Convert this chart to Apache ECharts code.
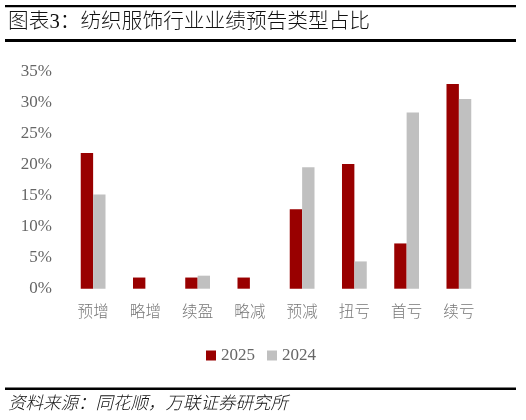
<!DOCTYPE html>
<html>
<head>
<meta charset="utf-8">
<script src="https://cdn.jsdelivr.net/npm/echarts@6/dist/echarts.min.js"></script>
<style>
html,body{margin:0;padding:0;background:#fff;}
#c{width:526px;height:420px;}
</style>
</head>
<body>
<div id="c"></div>
<script>
var categories = ['预增', '略增', '续盈', '略减', '预减', '扭亏', '首亏', '续亏'];
var seriesNames = ['2025', '2024'];
var values2025 = [21.9, 1.8, 1.8, 1.8, 12.8, 20.1, 7.3, 33.0];
var values2024 = [15.2, 0, 2.1, 0, 19.6, 4.4, 28.4, 30.6];
var titleText = '图表3：纺织服饰行业业绩预告类型占比';
var sourceText = '资料来源：同花顺，万联证券研究所';

var serif = '"Liberation Serif", "Noto Sans CJK SC", serif';
var chart = echarts.init(document.getElementById('c'), null, {renderer: 'canvas'});
chart.setOption({
  animation: false,
  backgroundColor: '#fff',
  grid: {left: 67, right: 41, top: 71.7, bottom: 131.3, containLabel: false},
  legend: {
    data: seriesNames,
    top: 342,
    left: 201,
    itemWidth: 10,
    itemHeight: 10,
    itemGap: 12,
    icon: 'rect',
    textStyle: {fontFamily: serif, fontSize: 17, color: '#666'}
  },
  xAxis: {
    type: 'category',
    data: categories,
    axisLine: {show: false},
    axisTick: {show: false},
    axisLabel: {margin: 15, fontFamily: '"Noto Sans CJK SC", serif', fontWeight: 300, fontSize: 15.5, color: '#777'}
  },
  yAxis: {
    type: 'value',
    min: 0,
    max: 35,
    interval: 5,
    splitLine: {show: false},
    axisLine: {show: false},
    axisTick: {show: false},
    axisLabel: {margin: 15, fontFamily: serif, fontSize: 17, color: '#666', formatter: '{value}%'}
  },
  series: [
    {name: seriesNames[0], type: 'bar', data: values2025, barWidth: '23.7%', barGap: '0%',
     itemStyle: {color: '#990000'}},
    {name: seriesNames[1], type: 'bar', data: values2024, barWidth: '23.7%', barGap: '0%',
     itemStyle: {color: '#C0C0C0'}}
  ],
  graphic: [
    {type: 'rect', shape: {x: 5, y: 5, width: 511, height: 2.2}, style: {fill: '#000'}},
    {type: 'rect', shape: {x: 5, y: 39, width: 511, height: 3}, style: {fill: '#000'}},
    {type: 'rect', shape: {x: 5, y: 387.5, width: 511, height: 2.5}, style: {fill: '#000'}},
    {type: 'text', left: 8, top: 12, style: {text: titleText, fontFamily: serif, fontWeight: 300, fontSize: 20.7, fill: '#111'}},
    {type: 'text', left: 8, top: 396, style: {text: sourceText, fontFamily: serif, fontWeight: 300, fontStyle: 'italic', fontSize: 17.5, fill: '#111'}}
  ]
});
</script>
</body>
</html>
